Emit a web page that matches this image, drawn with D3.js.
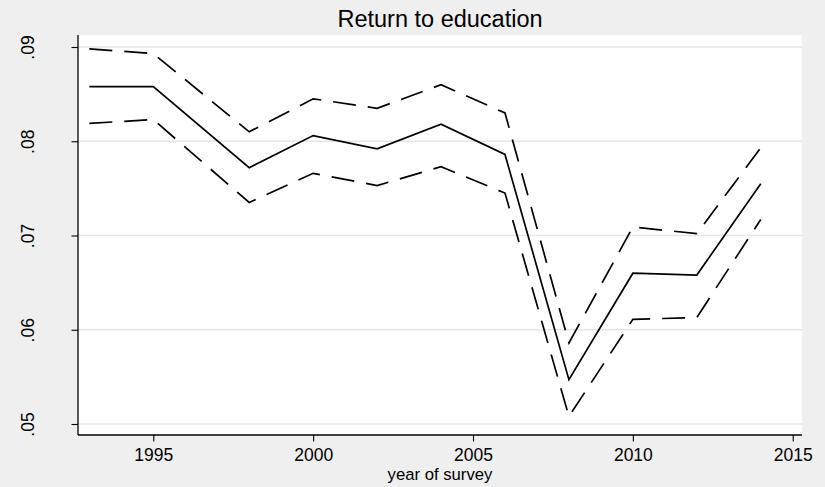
<!DOCTYPE html>
<html>
<head>
<meta charset="utf-8">
<script src="https://cdn.jsdelivr.net/npm/d3@7/dist/d3.min.js"></script>
<style>
  html, body { margin: 0; padding: 0; background: #efefef; }
  svg { display: block; }
  text { font-family: "Liberation Sans", Arial, sans-serif; fill: #000; }
</style>
</head>
<body>
<script>
// Survey years and the estimated return to education with its confidence band
const years    = [1993, 1995, 1998, 2000, 2002, 2004, 2006, 2008, 2010, 2012, 2014];
const estimate = [0.0858, 0.0858, 0.0772, 0.0806, 0.0792, 0.0818, 0.0786, 0.0547, 0.0660, 0.0658, 0.0755];
const upper    = [0.0898, 0.0893, 0.0810, 0.0845, 0.0835, 0.0860, 0.0830, 0.0586, 0.0709, 0.0702, 0.0793];
const lower    = [0.0819, 0.0823, 0.0735, 0.0766, 0.0753, 0.0773, 0.0745, 0.0508, 0.0611, 0.0613, 0.0717];

const xTicks = [1995, 2000, 2005, 2010, 2015];
const yTicks = [0.05, 0.06, 0.07, 0.08, 0.09];

const W = 825, H = 487;
const plot = { left: 78, right: 802, top: 35, bottom: 435 };

const svg = d3.select("body").append("svg").attr("width", W).attr("height", H);
svg.append("rect").attr("width", W).attr("height", H).attr("fill", "#efefef");

const x = d3.scaleLinear().domain([1992.645, 2015.29]).range([plot.left, plot.right]);
const y = d3.scaleLinear().domain([0.048833, 0.091167]).range([plot.bottom, plot.top + 1]);

// Plot region
svg.append("rect")
  .attr("x", plot.left).attr("y", plot.top)
  .attr("width", plot.right - plot.left).attr("height", plot.bottom - plot.top)
  .attr("fill", "#fff");

// Horizontal gridlines
svg.append("g").selectAll("line").data(yTicks).join("line")
  .attr("x1", plot.left).attr("x2", plot.right)
  .attr("y1", d => y(d)).attr("y2", d => y(d))
  .attr("stroke", "#e6e6e6").attr("stroke-width", 1.5);

// Axes
const fmt = d => d3.format(".2f")(d).replace(/^0/, "");

const yAxis = svg.append("g")
  .attr("transform", `translate(${plot.left},0)`)
  .call(d3.axisLeft(y).tickValues(yTicks).tickFormat(fmt).tickSize(6.5).tickPadding(0));
yAxis.select(".domain").remove();
yAxis.append("line").attr("x1", 0).attr("x2", 0).attr("y1", plot.top).attr("y2", plot.bottom)
  .attr("stroke", "#000").attr("stroke-width", 1.3);
yAxis.selectAll(".tick line").attr("stroke", "#000").attr("stroke-width", 1.1);
yAxis.selectAll(".tick text")
  .attr("x", 0).attr("dy", 0)
  .attr("transform", "translate(-44.5,0) rotate(-90)")
  .attr("text-anchor", "middle")
  .attr("font-size", 17.5)
  .attr("font-family", "'Liberation Sans', Arial, sans-serif");

const xAxis = svg.append("g")
  .attr("transform", `translate(0,${plot.bottom})`)
  .call(d3.axisBottom(x).tickValues(xTicks).tickFormat(d3.format("d")).tickSize(6.5).tickPadding(0));
xAxis.select(".domain").remove();
xAxis.append("line").attr("x1", plot.left).attr("x2", plot.right).attr("y1", 0).attr("y2", 0)
  .attr("stroke", "#000").attr("stroke-width", 1.3);
xAxis.selectAll(".tick line").attr("stroke", "#000").attr("stroke-width", 1.1);
xAxis.selectAll(".tick text")
  .attr("y", 26).attr("dy", 0)
  .attr("font-size", 17.5)
  .attr("font-family", "'Liberation Sans', Arial, sans-serif");

// Lines: point estimate (solid) and confidence bounds (dashed)
const line = d3.line().x((d, i) => x(years[i])).y(d => y(d));
const series = [
  { values: upper, dash: "23,12" },
  { values: estimate, dash: null },
  { values: lower, dash: "23,12" }
];
svg.append("g").selectAll("path").data(series).join("path")
  .attr("d", d => line(d.values))
  .attr("fill", "none")
  .attr("stroke", "#000")
  .attr("stroke-width", 1.7)
  .attr("stroke-linejoin", "miter")
  .attr("stroke-dasharray", d => d.dash);

// Titles
svg.append("text")
  .attr("x", (plot.left + plot.right) / 2).attr("y", 27)
  .attr("text-anchor", "middle").attr("font-size", 23.5)
  .text("Return to education");

svg.append("text")
  .attr("x", (plot.left + plot.right) / 2).attr("y", 480)
  .attr("text-anchor", "middle").attr("font-size", 16.7)
  .text("year of survey");
</script>
</body>
</html>
